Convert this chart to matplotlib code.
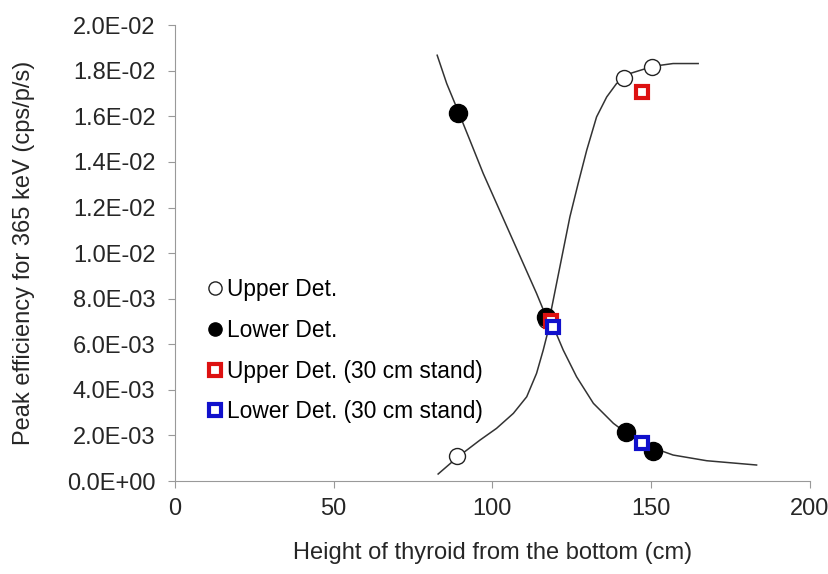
import matplotlib
matplotlib.use("Agg")
import matplotlib.pyplot as plt

plt.rcParams['font.family'] = ['Liberation Sans', 'DejaVu Sans']

# ------------------------------------------------------------
#   dados
# ------------------------------------------------------------
upper_x = [88.8, 116.9, 141.4, 150.2]
upper_y = [0.00110, 0.00705, 0.01768, 0.01816]

lower_x = [89.1, 116.9, 142.0, 150.6]
lower_y = [0.01614, 0.00719, 0.00215, 0.00132]

upper_stand_x = [118.6, 147.1]
upper_stand_y = [0.00700, 0.01706]

lower_stand_x = [119.0, 147.0]
lower_stand_y = [0.00675, 0.00167]

# curvas ajustadas (pontos lidos ao longo da linha)
rise_x = [82.9, 89.2, 96.1, 101.3, 106.6, 110.8, 113.9, 116.0, 117.6,
          118.1, 120.2, 122.3, 124.4, 127.0, 129.7, 132.8, 136.0, 139.1,
          143.3, 150.7, 156.9, 164.8]
rise_y = [0.000307, 0.001066, 0.001798, 0.002311, 0.002969, 0.003697,
          0.004724, 0.005746, 0.006623, 0.007206, 0.008671, 0.010132,
          0.011592, 0.013057, 0.014518, 0.015978, 0.016855, 0.017443,
          0.017882, 0.018202, 0.018320, 0.018320]

fall_x = [82.6, 85.6, 89.5, 92.9, 97.1, 101.3, 105.5, 109.7, 113.9, 116.5,
          119.2, 122.3, 126.5, 131.8, 138.1, 142.3, 149.6, 156.9, 167.5,
          183.2]
fall_y = [0.018684, 0.017443, 0.016127, 0.014956, 0.013496, 0.012180,
          0.010864, 0.009548, 0.008232, 0.007355, 0.006768, 0.005746,
          0.004575, 0.003408, 0.002531, 0.002092, 0.001504, 0.001140,
          0.000890, 0.000702]

x_ticks = [0, 50, 100, 150, 200]
y_ticks = [i * 0.002 for i in range(11)]

fig = plt.figure(figsize=(8.29, 5.74), dpi=100)
ax = fig.add_axes([0.211, 0.162, 0.766, 0.794])

ax.plot(rise_x, rise_y, color='#333333', lw=1.1, zorder=1)
ax.plot(fall_x, fall_y, color='#333333', lw=1.1, zorder=1)

ax.plot(upper_x, upper_y, 'o', ms=11.5, mfc='white', mec='#222222',
        mew=1.0, label='Upper Det.', zorder=2)
ax.plot(lower_x, lower_y, 'o', ms=13, mfc='black', mec='black',
        label='Lower Det.', zorder=3)
ax.plot(upper_stand_x, upper_stand_y, 's', ms=9.2, mfc='white', mec='#dd1111',
        mew=3.0, label='Upper Det. (30 cm stand)', zorder=4)
ax.plot(lower_stand_x, lower_stand_y, 's', ms=9.2, mfc='white', mec='#1010cc',
        mew=3.0, label='Lower Det. (30 cm stand)', zorder=5)

ax.set_xlim(0, 200)
ax.set_ylim(0, 0.02)
ax.set_xticks(x_ticks)
ax.set_yticks(y_ticks)
ax.set_yticklabels([f"{v:.1E}" for v in y_ticks])

for s in ['top', 'right']:
    ax.spines[s].set_visible(False)
for s in ['left', 'bottom']:
    ax.spines[s].set_color('#999999')
ax.tick_params(axis='both', colors='#999999', labelcolor='#262626',
               labelsize=17, length=5, direction='out')
ax.tick_params(axis='x', pad=7)
ax.tick_params(axis='y', pad=9)

ax.set_xlabel("Height of thyroid from the bottom (cm)", fontsize=17,
              color='#262626', labelpad=16)
ax.set_ylabel("Peak efficiency for 365 keV (cps/p/s)", fontsize=17,
              color='#262626', labelpad=23)

leg = ax.legend(loc='upper left', bbox_to_anchor=(196.5 / 829, 1 - 269 / 574),
                bbox_transform=fig.transFigure, frameon=False,
                fontsize=16.4, handlelength=0.8,
                handletextpad=0.15, labelspacing=0.78, borderaxespad=0.0)
# marcadores da legenda um pouco menores para os circulos
for h in leg.legend_handles[:2]:
    h.set_markersize(9.5)

plt.savefig("out.png", dpi=100)
